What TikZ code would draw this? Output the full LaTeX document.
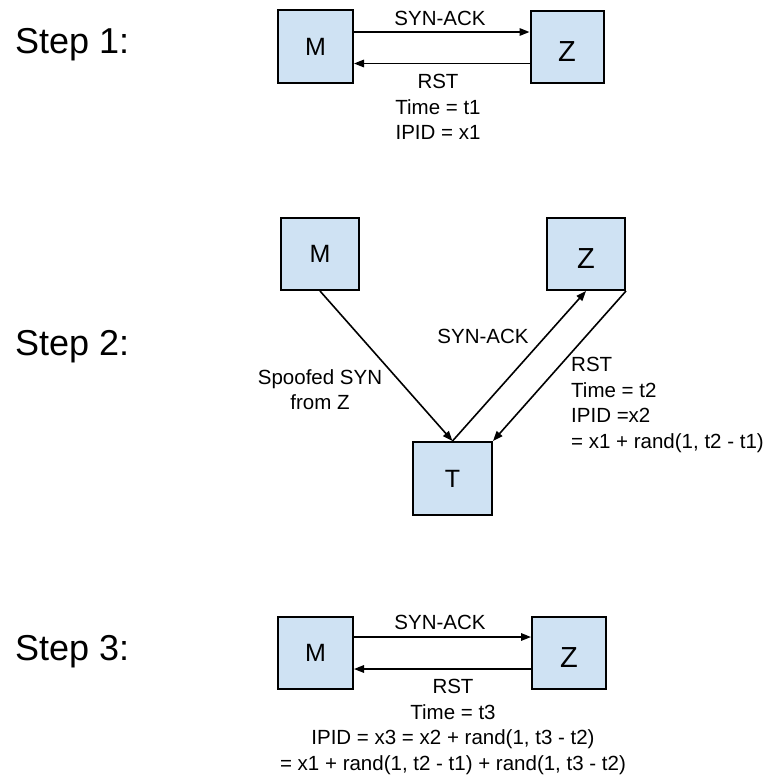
\documentclass[tikz,border=0pt]{standalone}
\usepackage{fontspec}
\setmainfont{Liberation Sans}
\usetikzlibrary{arrows.meta}
\definecolor{boxblue}{HTML}{CFE2F3}
\tikzset{
  hostbox/.style={draw=black, line width=2pt, fill=boxblue, inner sep=0pt},
  arr/.style={line width=1.6pt, -{Triangle[length=10pt,width=7.5pt]}},
  lbl/.style={inner sep=0pt, font=\fontsize{20.5}{25.5}\selectfont},
  steplbl/.style={inner sep=0pt, anchor=base west, font=\fontsize{36}{40}\selectfont},
  mfont/.style={font=\fontsize{25}{28}\selectfont},
  zfont/.style={font=\fontsize{29}{32}\selectfont}
}
\newcommand{\zlet}{\raisebox{-4.5pt}[\height][0pt]{Z}}
\begin{document}
\begin{tikzpicture}[x=1pt,y=-1pt]
\useasboundingbox (0,0) rectangle (773,777);

% ---------- Step 1 ----------
\node[steplbl] (s1) at (15,53) {Step 1:};
\node[hostbox, mfont, minimum width=75pt, minimum height=73pt] (M1) at (315.5,46.5) {M};
\node[hostbox, zfont, minimum width=73pt, minimum height=72pt] (Z1) at (567,47) {\zlet};
\draw[arr] ([yshift=14.5pt]M1.east) -- ([yshift=14.5pt]M1.east -| Z1.west);
\draw[arr] ([yshift=-16.5pt]Z1.west) -- ([yshift=-16.5pt]Z1.west -| M1.east);
\node[lbl, anchor=base] (sa1) at (440,25) {SYN-ACK};
\node[lbl, anchor=north, align=center] (r1) at (438,74) {RST\\Time = t1\\IPID = x1};

% ---------- Step 2 ----------
\node[steplbl] (s2) at (15,355) {Step 2:};
\node[hostbox, mfont, minimum width=78pt, minimum height=72pt] (M2) at (320,254) {M};
\node[hostbox, zfont, minimum width=78pt, minimum height=72pt] (Z2) at (586,254) {\zlet};
\node[hostbox, mfont, minimum width=79pt, minimum height=73pt] (T2) at (452.5,478.5) {T};
\draw[arr] (M2.south) -- (T2.north);
\draw[arr] (T2.north) -- (Z2.south);
\draw[arr] (Z2.south east) -- (T2.north east);
\node[lbl, anchor=base] (sa2) at (483,343) {SYN-ACK};
\node[lbl, anchor=north, align=center] (sp2) at (320,369) {Spoofed SYN\\from Z};
\node[lbl, anchor=north west, align=left] (r2) at (571,357) {RST\\Time = t2\\IPID =x2\\= x1 + rand(1, t2 - t1)};

% ---------- Step 3 ----------
\node[steplbl] (s3) at (15,660) {Step 3:};
\node[hostbox, mfont, minimum width=75pt, minimum height=72pt] (M3) at (315.5,653) {M};
\node[hostbox, zfont, minimum width=74pt, minimum height=72pt] (Z3) at (569,653) {\zlet};
\draw[arr] ([yshift=16pt]M3.east) -- ([yshift=16pt]M3.east -| Z3.west);
\draw[arr] ([yshift=-16pt]Z3.west) -- ([yshift=-16pt]Z3.west -| M3.east);
\node[lbl, anchor=base] (sa3) at (440,629) {SYN-ACK};
\node[lbl, anchor=north, align=center] (r3) at (453,679) {RST\\Time = t3\\IPID = x3 = x2 + rand(1, t3 - t2)\\= x1 + rand(1, t2 - t1) + rand(1, t3 - t2)};
\end{tikzpicture}
\end{document}
